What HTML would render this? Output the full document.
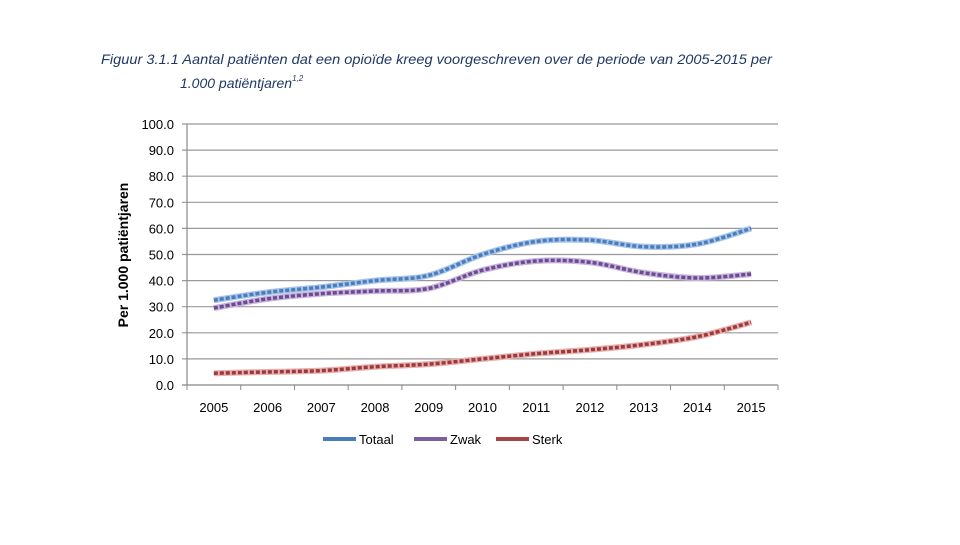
<!DOCTYPE html>
<html><head><meta charset="utf-8"><style>
body{margin:0;background:#fff;width:960px;height:540px;overflow:hidden;font-family:"Liberation Sans",sans-serif}
</style></head><body>
<svg width="960" height="540">
<text x="101" y="64" font-size="14" font-style="italic" fill="#1f3864" textLength="671" lengthAdjust="spacingAndGlyphs">Figuur 3.1.1  Aantal patiënten dat een opioïde kreeg voorgeschreven over de periode van 2005-2015 per</text>
<text x="180" y="88" font-size="14" font-style="italic" fill="#1f3864">1.000 patiëntjaren<tspan dy="-7" font-size="8">1,2</tspan></text>
<g id="grid"></g>
<g id="lines"></g>
<text transform="translate(128,255) rotate(-90)" text-anchor="middle" font-size="14" font-weight="bold" fill="#000">Per 1.000 patiëntjaren</text>
<g font-size="13" fill="#000">
<line x1="323" y1="439" x2="356" y2="439" stroke="#4a7ebb" stroke-width="4"/><text x="359" y="444">Totaal</text>
<line x1="414" y1="439" x2="447" y2="439" stroke="#7d5fa0" stroke-width="4"/><text x="450" y="444">Zwak</text>
<line x1="496" y1="439" x2="529" y2="439" stroke="#a84444" stroke-width="4"/><text x="532" y="444">Sterk</text>
</g>
</svg>
<script>
const years=['2005','2006','2007','2008','2009','2010','2011','2012','2013','2014','2015'];
const yTicks=[0,10,20,30,40,50,60,70,80,90,100];
const totaal=[32.5,35.5,37.5,40,42,50,55,55.5,53,54,60];
const zwak=[29.5,33,35,36,37,44,47.5,47,43,41,42.5];
const sterk=[4.5,5,5.5,7,8,10,12,13.5,15.5,18.5,24];
const X0=187,X1=778,Y0=385,Y1=124,NS='http://www.w3.org/2000/svg';
const bw=(X1-X0)/years.length;
const xs=i=>X0+bw*(i+0.5), ys=v=>Y0-(v/100)*(Y0-Y1);
function mk(t,a,p){const e=document.createElementNS(NS,t);for(const k in a)e.setAttribute(k,a[k]);(p||document.getElementById('grid')).appendChild(e);return e;}
const g=document.getElementById('grid');
yTicks.forEach(v=>{
 const l=mk('line',{x1:X0-5,x2:X1,y1:ys(v),y2:ys(v),stroke:v===0?'#888':'#999','stroke-width':1.2},g);
 
 
 const t=mk('text',{x:X0-13,y:ys(v)+5,'text-anchor':'end','font-size':13,fill:'#000'},g);
 t.textContent=v.toFixed(1);
 
 
});
const ax=mk('line',{x1:X0,x2:X0,y1:Y1,y2:Y0,stroke:'#888','stroke-width':1.2},g);


for(let i=0;i<=years.length;i++){mk('line',{x1:X0+bw*i,x2:X0+bw*i,y1:Y0,y2:Y0+5,stroke:'#888'},g);}
years.forEach((y,i)=>{
 const t=mk('text',{x:xs(i),y:Y0+27,'text-anchor':'middle','font-size':13,fill:'#000'},g);
 t.textContent=y;
 
 
});
function path(vals){
 const p=vals.map((v,i)=>[xs(i),ys(v)]);let d=`M${p[0][0]},${p[0][1]}`;
 for(let i=0;i<p.length-1;i++){const a=p[i-1]||p[i],b=p[i],c=p[i+1],e=p[i+2]||c;
  d+=` C${b[0]+(c[0]-a[0])/6},${b[1]+(c[1]-a[1])/6} ${c[0]-(e[0]-b[0])/6},${c[1]-(e[1]-b[1])/6} ${c[0]},${c[1]}`;}
 return d;}
const L=document.getElementById('lines');
[[totaal,'#a9c4ea','#4a7ebb','line-totaal'],[zwak,'#c9b4e0','#6a4d8c','line-zwak'],[sterk,'#e8b0b0','#9b3a3a','line-sterk']].forEach(s=>{
 const d=path(s[0]);
 mk('path',{d,fill:'none',stroke:s[1],'stroke-width':6},L);
 const e=mk('path',{d,fill:'none',stroke:s[2],'stroke-width':3.5,'stroke-dasharray':'4 2'},L);
 
 
});
</script>
</body></html>
